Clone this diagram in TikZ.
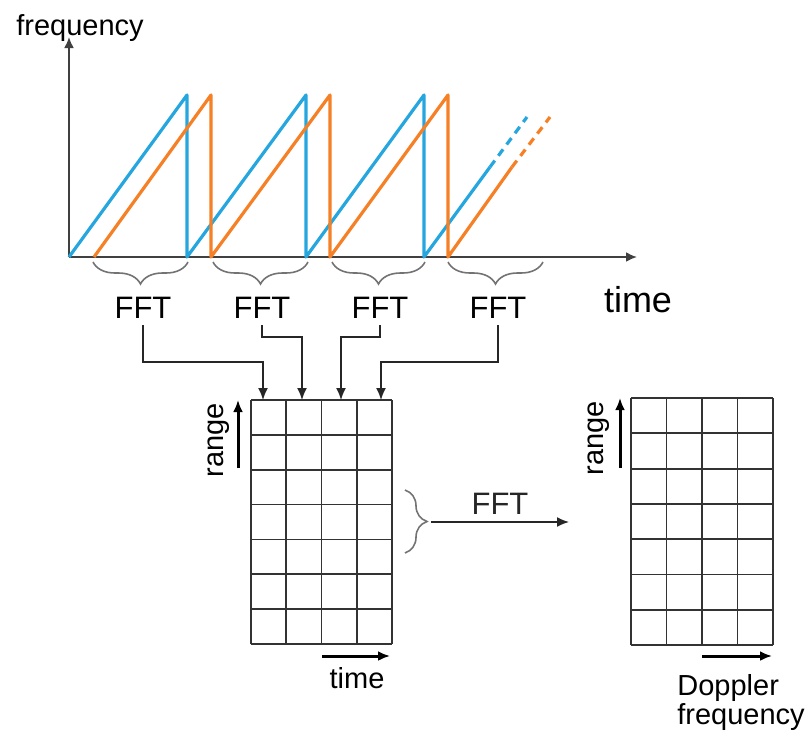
\documentclass[tikz,border=0pt]{standalone}
\usepackage{fontspec}
\setmainfont{Liberation Sans}
\usetikzlibrary{decorations.pathreplacing, arrows.meta}

\definecolor{sendeblau}{RGB}{38,166,222}
\definecolor{echoorange}{RGB}{246,128,38}

\begin{document}
\begin{tikzpicture}
		[
		x=0.5pt, y=-0.5pt, font=\fontsize{14.5}{17}\selectfont, >=latex,
		%Voreinstellungen
		rampe/.style={line width=1.6pt, line join=round},
		achse/.style={-{Latex[length=5.5pt, width=5pt]}, line width=1pt, black!75},
		klammer/.style={decorate, decoration={brace, amplitude=11pt}, line width=0.8pt, black!55},
		fft/.style={font=\fontsize{15.5}{18}\selectfont, anchor=base},
		pfeil/.style={-{Latex[length=6pt, width=5pt]}, line width=0.8pt, black!85},
		dick/.style={-{Latex[length=6pt, width=5pt]}, line width=1.5pt}
		]
		
		\useasboundingbox (0,0) rectangle (809,730);
		
		%Achsen
		\coordinate (o) at (69,257);
		\coordinate (f) at (69,37);
		\coordinate (t) at (637,257);
		\draw [achse] (o) -- (f);
		\draw [achse] (o) -- (t);
		\node (flabel) [anchor=base] at (80,35) {frequency};
		\node (tlabel) [anchor=base, font=\fontsize{18}{21}\selectfont] at (638,312) {time};
		
		%Sendesignal
		\draw[rampe, sendeblau] (69,257) -- (187,95) -- (187,257) -- (306,95) -- (306,257) -- (424,95) -- (424,257) -- (490,167);
		\draw[rampe, sendeblau, dash pattern=on 4pt off 3pt] (490,167) -- (527,117);
		
		%Empfangssignal
		\draw[rampe, echoorange] (94,257) -- (211,95) -- (211,257) -- (330,95) -- (330,257) -- (448,95) -- (448,257) -- (512,167);
		\draw[rampe, echoorange, dash pattern=on 4pt off 3pt] (512,167) -- (550,117);
		
		%Klammern unter der Zeitachse
		\draw[klammer] (188,262) -- (93,262);
		\draw[klammer] (308,262) -- (213,262);
		\draw[klammer] (425,262) -- (332,262);
		\draw[klammer] (543,262) -- (448,262);
		
		\node (fft1) [fft] at (143,318) {FFT};
		\node (fft2) [fft] at (262,318) {FFT};
		\node (fft3) [fft] at (380,318) {FFT};
		\node (fft4) [fft] at (498,318) {FFT};
		
		%Matrix links
		\begin{scope}[shift={(251,644)}]
			\draw[xstep=17.625pt, ystep=17.43pt, line width=0.9pt, black!80] (0,0) grid (141,-244);
		\end{scope}
		
		\coordinate (e1) at (263,400);
		\coordinate (e2) at (302,400);
		\coordinate (e3) at (341,400);
		\coordinate (e4) at (381,400);
		
		\draw[pfeil] (fft1.south) -- ++(0,37) -| (e1);
		\draw[pfeil] (fft2.south) -- ++(0,12) -| (e2);
		\draw[pfeil] (fft3.south) -- ++(0,12) -| (e3);
		\draw[pfeil] (fft4.south) -- ++(0,37) -| (e4);
		
		\coordinate (r1a) at (238,468);
		\coordinate (r1b) at (238,400);
		\draw[dick] (r1a) -- (r1b);
		\node (range1) [rotate=90, anchor=base] at (223,440) {range};
		
		\coordinate (z1a) at (322,656);
		\coordinate (z1b) at (390,656);
		\draw[dick] (z1a) -- (z1b);
		\node (time1) [anchor=base] at (357,688) {time};
		
		%Klammer und FFT nach rechts
		\draw[klammer] (405,490) -- (405,553);
		\coordinate (k) at (431,522);
		\coordinate (d) at (569,522);
		\draw[pfeil] (k) -- (d) node (fft5) [midway, above, font=\fontsize{15.5}{18}\selectfont] {FFT};
		
		%Matrix rechts
		\begin{scope}[shift={(631,645)}]
			\draw[xstep=17.75pt, ystep=17.64pt, line width=0.9pt, black!80] (0,0) grid (142,-247);
		\end{scope}
		
		\coordinate (r2a) at (620,468);
		\coordinate (r2b) at (620,398);
		\draw[dick] (r2a) -- (r2b);
		\node (range2) [rotate=90, anchor=base] at (603,438) {range};
		
		\coordinate (z2a) at (702,656);
		\coordinate (z2b) at (772,656);
		\draw[dick] (z2a) -- (z2b);
		\node (doppler) [align=left, anchor=north west, inner sep=0pt, font=\fontsize{14.5}{13}\selectfont] at (677,674) {Doppler\\frequency};
		
	\end{tikzpicture}
\end{document}
